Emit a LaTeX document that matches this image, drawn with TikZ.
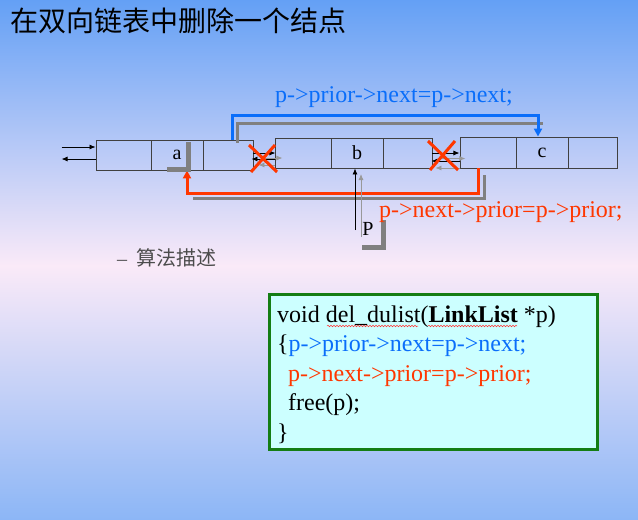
\documentclass[tikz,border=0pt]{standalone}
\usepackage{fontspec}
\setmainfont{Liberation Serif}
\newfontfamily\cjk{Noto Sans CJK SC}
\usetikzlibrary{arrows.meta,decorations.pathmorphing}
\definecolor{bgtop}{RGB}{100,160,245}
\definecolor{bgmid}{RGB}{250,234,248}
\definecolor{bgbot}{RGB}{140,182,246}
\definecolor{cblue}{RGB}{10,110,250}
\definecolor{cred}{RGB}{255,55,0}
\definecolor{cgray}{RGB}{128,128,128}
\definecolor{cgreen}{RGB}{20,125,20}
\definecolor{cfill}{RGB}{204,255,255}
\begin{document}
\begin{tikzpicture}[x=1pt,y=-1pt,
  cell/.style={draw=black!75,line width=0.9pt,minimum width=#1,minimum height=30pt,inner sep=0pt,font=\fontsize{20}{24}\selectfont},
  txt/.style={inner sep=0pt,anchor=base west,font=\fontsize{24}{28}\selectfont},
  smallarr/.style={-{Latex[length=6pt,width=5pt]},line width=0.8pt},
  grayarr/.style={smallarr,draw=cgray!80},
  bluearr/.style={draw=cblue,line width=3pt,-{Triangle[length=8pt,width=8pt]}},
  redarr/.style={draw=cred,line width=3pt,-{Triangle[length=8pt,width=8pt]}},
  grayline/.style={draw=cgray,line width=3pt},
  grayL/.style={draw=cgray,line width=5pt},
  xcross/.style={draw=cred,line width=3pt},
  wavy/.style={draw=red!80,line width=0.5pt,decorate,decoration={snake,amplitude=0.8pt,segment length=3pt}},
  codebox/.style={draw=cgreen,line width=3pt,fill=cfill,inner sep=0pt}
]
% background
\useasboundingbox (0,0) rectangle (638,520);
\shade[top color=bgtop,bottom color=bgmid] (0,0) rectangle (638,266);
\shade[top color=bgmid,bottom color=bgbot] (0,265) rectangle (638,520);

% title
\node[inner sep=0pt,anchor=base west,font=\cjk\fontsize{28}{32}\selectfont] (title) at (10,31) {在双向链表中删除一个结点};

% list cells
\node[cell=55pt] (h1) at (123.5,155) {};
\node[cell=52pt] (h2) at (177,155) {a\hspace{8pt}};
\node[cell=50pt] (h3) at (228,155) {};
\node[cell=56pt] (b1) at (303,153) {};
\node[cell=52pt] (b2) at (357,153) {b\hspace{8pt}};
\node[cell=49pt] (b3) at (407.5,153) {};
\node[cell=56pt,minimum height=31pt] (c1) at (488,152.5) {};
\node[cell=52pt,minimum height=31pt] (c2) at (542,152.5) {c\hspace{7pt}};
\node[cell=49pt,minimum height=31pt] (c3) at (592.5,152.5) {};

% incoming arrows at left
\draw[smallarr] ([xshift=-34pt,yshift=8pt]h1.west) -- ([yshift=8pt]h1.west);
\draw[smallarr] ([yshift=-4pt]h1.west) -- ([xshift=-34pt,yshift=-4pt]h1.west);

% gap 1 arrows
\draw[grayarr] ([xshift=10pt,yshift=-3pt]h3.east) -- ([xshift=29pt,yshift=-3pt]h3.east);
\draw[grayarr] ([xshift=22pt,yshift=-10pt]h3.east) -- ([xshift=5pt,yshift=-10pt]h3.east);
\draw[smallarr] ([yshift=2pt]h3.east) -- ([xshift=22pt,yshift=2pt]h3.east);
\draw[smallarr] ([xshift=22pt,yshift=-4pt]h3.east) -- ([xshift=-2pt,yshift=-4pt]h3.east);

% gap 2 arrows
\draw[grayarr] ([xshift=8pt,yshift=-5.5pt]b3.east) -- ([xshift=33pt,yshift=-5.5pt]b3.east);
\draw[grayarr] ([xshift=28pt,yshift=-15pt]b3.east) -- ([xshift=3pt,yshift=-15pt]b3.east);
\draw[smallarr] (b3.east) -- ([xshift=27pt]b3.east);
\draw[smallarr] ([xshift=28pt,yshift=-8pt]b3.east) -- ([xshift=-1pt,yshift=-8pt]b3.east);

% gray shadow of blue arrow
\coordinate (gturn) at (543,123);
\draw[grayline] ([xshift=35pt,yshift=-3pt]h3.north west) |- (gturn);
% blue arrow
\coordinate (bturn) at (538,115);
\draw[bluearr] ([xshift=30pt]h3.north west) |- (bturn) -- (bturn |- c2.north);

% gray shadow of red arrow
\coordinate (gturn2) at (193,198);
\draw[grayline] ([xshift=-4pt,yshift=-7pt]c1.south) |- (gturn2);
% red arrow
\coordinate (rturn) at (187,193);
\draw[redarr] ([xshift=-10pt]c1.south) |- (rturn) -- (rturn |- h2.south);

% gray corner at a
\draw[grayL] (167,169) -| (188,142);

% crosses
\draw[xcross] (249,145) -- (277,172) (275,145) -- (251,172);
\draw[xcross] (428,141) -- (458,170) (455,141) -- (430,170);

% pointer P
\node[inner sep=0pt,font=\fontsize{20}{24}\selectfont] (P) at (368,229) {P};
\draw[grayL] (362,247) -| (383,220);
\coordinate (pg) at (361,237);
\coordinate (pg2) at (361,174);
\draw[grayarr] (pg) -- (pg2);
\coordinate (pa) at (355,230);
\draw[smallarr] (pa) -- (pa |- b2.south);

% statement labels
\node[txt,text=cblue] (t1) at (275,102) {p->prior->next=p->next;};
\node[txt,text=cred] (t2) at (379,217) {p->next->prior=p->prior;};

% algorithm description
\node[inner sep=0pt,anchor=base west,text=black!70] (desc) at (117,265) {\fontsize{20}{23}\selectfont\textendash\hspace{9pt}{\cjk 算法描述}};

% code box
\node[codebox,minimum width=328pt,minimum height=155pt] (code) at (433,371.5) {};
\node[txt] (l1) at (277,322) {void del\_dulist(\textbf{LinkList} *p)};
\node[txt] (l2) at (277,351.5) {\{\textcolor{cblue}{p->prior->next=p->next;}};
\node[txt,text=cred] (l3) at (288,381) {p->next->prior=p->prior;};
\node[txt] (l4) at (288,410.5) {free(p);};
\node[txt] (l5) at (277,440) {\}};
\draw[wavy] (327,326) -- (418,326);
\draw[wavy] (428,326) -- (517,326);
\end{tikzpicture}
\end{document}
